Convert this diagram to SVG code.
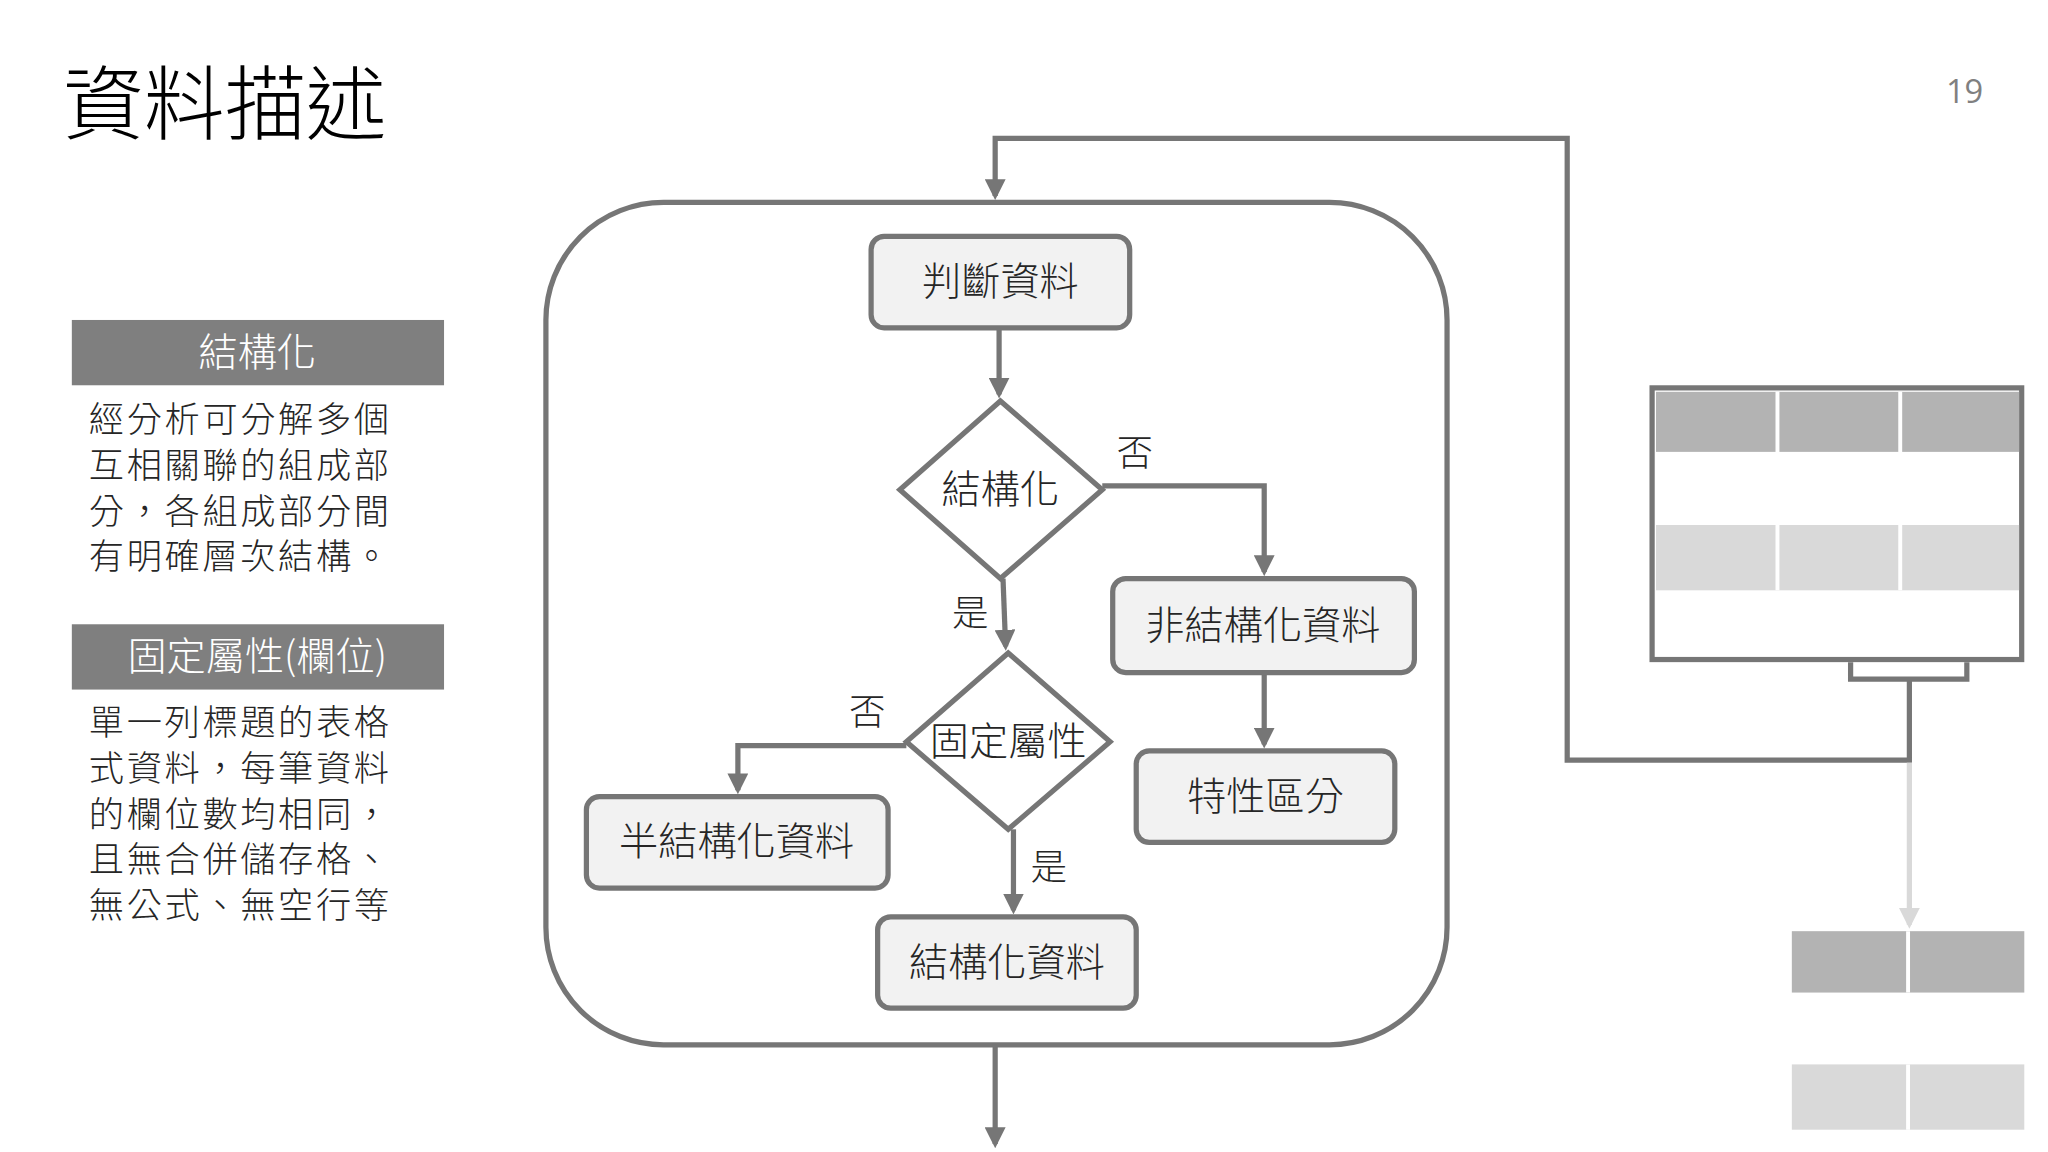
<svg xmlns="http://www.w3.org/2000/svg" width="2048" height="1152" viewBox="0 0 2048 1152">
<style>
text{font-family:"Noto Sans CJK TC","Noto Sans CJK SC",sans-serif;}
.n{fill:#f2f2f2;stroke:#767676;stroke-width:4}
.d{fill:#fff;stroke:#767676;stroke-width:4}
.c{fill:none;stroke:#767676;stroke-width:4}
.t{font-size:30px;fill:#262626;text-anchor:middle;font-weight:300}
.b{font-size:27px;fill:#262626;letter-spacing:2px;font-weight:300}
.l{font-size:28px;fill:#262626;font-weight:300}
</style>
<defs>
<marker id="a" viewBox="0 0 10 10" refX="8" refY="5" markerWidth="4" markerHeight="4" orient="auto"><path d="M0,0L10,5L0,10z" fill="#767676"/></marker>
<marker id="g" viewBox="0 0 10 10" refX="8" refY="5" markerWidth="4" markerHeight="4" orient="auto"><path d="M0,0L10,5L0,10z" fill="#d9d9d9"/></marker>
</defs>
<rect width="2048" height="1152" fill="#fff"/>
<g transform="scale(1.306)">
<text x="48" y="102" style="font-size:62px;fill:#000;font-weight:300">資料描述</text>
<text x="1490" y="79" style="font-size:25px;fill:#808080;font-family:'Open Sans',sans-serif">19</text>
<g id="side1">
<rect x="55" y="245" width="285" height="50" fill="#7f7f7f"/>
<text x="197" y="280" style="font-size:30px;fill:#fff;text-anchor:middle;font-weight:300">結構化</text>
<text class="b" x="68" y="331">經分析可分解多個</text>
<text class="b" x="68" y="366">互相關聯的組成部</text>
<text class="b" x="68" y="401">分，各組成部分間</text>
<text class="b" x="68" y="436">有明確層次結構。</text>
</g>
<g id="side2">
<rect x="55" y="478" width="285" height="50" fill="#7f7f7f"/>
<text x="197" y="513" style="font-size:30px;fill:#fff;text-anchor:middle;font-weight:300">固定屬性(欄位)</text>
<text class="b" x="68" y="563">單一列標題的表格</text>
<text class="b" x="68" y="598">式資料，每筆資料</text>
<text class="b" x="68" y="633">的欄位數均相同，</text>
<text class="b" x="68" y="668">且無合併儲存格、</text>
<text class="b" x="68" y="703">無公式、無空行等</text>
</g>
<g id="container"><rect x="418" y="155" width="690" height="645" rx="90" class="c"/></g>
<g id="monitor">
<rect x="1265" y="297" width="283" height="208" class="d"/>
<rect x="1268" y="300" width="278" height="46" fill="#b3b3b3"/>
<rect x="1268" y="402" width="278" height="50" fill="#d9d9d9"/>
<path d="M1361,300V346M1455,300V346M1361,402V452M1455,402V452" stroke="#fff" stroke-width="3"/>
<path d="M1417,507V520H1506V507" class="c"/>
</g>
<g id="outputs">
<rect x="1372" y="713" width="178" height="47" fill="#b3b3b3"/>
<rect x="1372" y="815" width="178" height="50" fill="#d9d9d9"/>
<path d="M1461,713V760M1461,815V865" stroke="#fff" stroke-width="3"/>
</g>
<g id="connectors">
<path d="M1462,520V582H1200V106H762V150" class="c" marker-end="url(#a)"/>
<path d="M765,251V302" class="c" marker-end="url(#a)"/>
<path d="M844,372H968V438" class="c" marker-end="url(#a)"/>
<path d="M968,515V570" class="c" marker-end="url(#a)"/>
<path d="M768,443L770,495" class="c" marker-end="url(#a)"/>
<path d="M694,571H565V605" class="c" marker-end="url(#a)"/>
<path d="M776,635V697" class="c" marker-end="url(#a)"/>
<path d="M762,800V876" class="c" marker-end="url(#a)"/>
<path d="M1462,584V708" fill="none" stroke="#d9d9d9" stroke-width="4" marker-end="url(#g)"/>
<text class="l" x="855" y="357">否</text>
<text class="l" x="729" y="479">是</text>
<text class="l" x="650" y="555">否</text>
<text class="l" x="789" y="674">是</text>
</g>
<g id="n1"><rect x="667" y="181" width="198" height="70" rx="10" class="n"/><text class="t" x="766" y="226">判斷資料</text></g>
<g id="d1"><path d="M766,307L844,375L766,443L689,375z" class="d"/><text class="t" x="766" y="385">結構化</text></g>
<g id="n2"><rect x="852" y="443" width="231" height="72" rx="10" class="n"/><text class="t" x="967" y="489">非結構化資料</text></g>
<g id="n3"><rect x="870" y="575" width="198" height="70" rx="10" class="n"/><text class="t" x="969" y="620">特性區分</text></g>
<g id="d2"><path d="M772,500L850,568L772,635L694,568z" class="d"/><text class="t" x="772" y="578">固定屬性</text></g>
<g id="n4"><rect x="449" y="610" width="231" height="70" rx="10" class="n"/><text class="t" x="564" y="655">半結構化資料</text></g>
<g id="n5"><rect x="672" y="702" width="198" height="70" rx="10" class="n"/><text class="t" x="771" y="747">結構化資料</text></g>
</g>
</svg>
